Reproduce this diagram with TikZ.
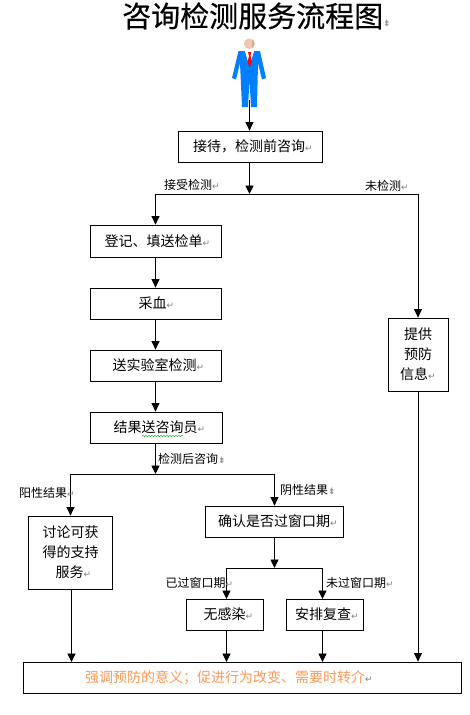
\documentclass[tikz,border=0pt]{standalone}
\usepackage{fontspec}
\setmainfont{Noto Sans CJK SC}
\newfontfamily\dejavu{DejaVu Sans}
\newfontfamily\titlefont[FakeBold=0.5]{Noto Sans CJK SC}
\usetikzlibrary{arrows.meta,decorations.pathmorphing}
\newcommand{\retmark}{{\color{gray}\dejavu\fontsize{9}{9}\selectfont ↵}}
\newcommand{\brkmark}{{\color{gray}\dejavu\fontsize{9}{9}\selectfont ⇟}}
\newcommand{\shiftr}[1]{\hspace*{#1pt}}
\definecolor{suit}{RGB}{0,128,255}
\definecolor{skin}{RGB}{238,200,175}
\definecolor{skindark}{RGB}{215,170,135}
\definecolor{peach}{RGB}{255,153,85}
\tikzset{
  x=1pt,y=-1pt,
  box/.style={draw=black,line width=0.8pt,fill=white,inner sep=0pt,font=\fontsize{14}{20}\selectfont,align=center},
  lab/.style={inner sep=0pt,anchor=west,font=\fontsize{12}{14}\selectfont},
  conn/.style={draw=black,line width=0.9pt},
  arr/.style={conn,-{Triangle[length=8.5pt,width=8pt]}},
}
\begin{document}
\begin{tikzpicture}
\useasboundingbox (0,0) rectangle (469,715);
% title
\node[inner sep=0pt,anchor=west,font=\fontsize{29}{32}\titlefont] (title) at (122,16) {咨询检测服务流程图{\color{gray}\dejavu\fontsize{9}{9}\selectfont ⇟}};
% person
\fill[suit] (238.5,51) -- (245,51) -- (249.3,66) -- (254,51) -- (260,51) -- (266,78) -- (262,79.5) -- (258,63) -- (257,107) -- (251,107) -- (249.5,80) -- (248,107) -- (242,107) -- (240,63) -- (236,79.5) -- (232,78) -- cycle;
\fill[white] (245,51) -- (254,51) -- (249.5,66) -- cycle;
\fill[red] (248,52) -- (251,52) -- (250.5,56) -- (252,62) -- (249.5,67) -- (247.5,62) -- (249,56) -- cycle;
\fill[skin] (249.3,43.7) circle (5.3);
\begin{scope}
\clip (249.3,43.7) circle (5.3);
\fill[skindark] (252,36) rectangle (256,52);
\end{scope}
\coordinate (person) at (249.5,100);
% boxes
\node[box,minimum width=144,minimum height=31] (recv) at (250,146.5) {\shiftr{6}接待，检测前咨询\retmark};
\node[box,minimum width=131,minimum height=32] (reg) at (155.5,241) {\shiftr{4}登记、填送检单\retmark};
\node[box,minimum width=131,minimum height=31] (blood) at (155.5,303.5) {\shiftr{2}采血\retmark};
\node[box,minimum width=131,minimum height=31] (lab) at (155.5,365.5) {\shiftr{6}送实验室检测\retmark};
\node[box,minimum width=132,minimum height=31] (result) at (156,427.5) {\shiftr{7}结果送咨询员\retmark};
\node[box,minimum width=60,minimum height=73] (prevent) at (418,354.5) {提供\\预防\\信息\retmark};
\node[box,minimum width=84,minimum height=73] (support) at (70.5,552.5) {讨论可获\\得的支持\\\shiftr{6}服务\retmark};
\node[box,minimum width=138,minimum height=31] (window) at (274.5,521.5) {\shiftr{7}确认是否过窗口期\retmark};
\node[box,minimum width=77,minimum height=31] (noinf) at (225,614.5) {\shiftr{7}无感染\retmark};
\node[box,minimum width=77,minimum height=31] (recheck) at (324.5,614.5) {\shiftr{5}安排复查\retmark};
\node[box,minimum width=438,minimum height=31,text=peach] (final) at (242,677.5) {强调预防的意义；促进行为改变、需要时转介\retmark\shiftr{26}};
% spell-check underline
\draw[green!60!black,line width=0.4pt,decorate,decoration={snake,amplitude=0.6pt,segment length=3pt}] (142,436) -- (183,436);
% junctions
\coordinate (j1) at (249.5,194);
\coordinate (j2) at (155.5,474);
\coordinate (j3) at (274.5,568);
\coordinate (c1) at (226.5,599);
\coordinate (c2) at (322.5,599);
\coordinate (d0) at (71.5,589);
\coordinate (d0e) at (71.5,662);
\coordinate (d1) at (226.5,630);
\coordinate (d1e) at (226.5,662);
\coordinate (d2) at (322.5,630);
\coordinate (d2e) at (322.5,662);
% connectors
\draw[arr] (person) -- (person |- recv.north);
\draw[arr] (recv.south -| j1) -- (j1);
\draw[arr] (j1) -| (reg.north);
\draw[arr] (j1) -| (prevent.north);
\draw[arr] (reg) -- (blood);
\draw[arr] (blood) -- (lab);
\draw[arr] (lab) -- (result.north -| lab);
\draw[arr] (result.south -| j2) -- (j2);
\draw[arr] (j2) -| (support.north);
\draw[arr] (j2) -| (window.north);
\draw[arr] (window) -- (j3);
\draw[arr] (j3) -| (c1);
\draw[arr] (j3) -| (c2);
\draw[arr] (d0) -- (d0e);
\draw[arr] (d1) -- (d1e);
\draw[arr] (d2) -- (d2e);
\draw[arr] (prevent.south) -- (prevent.south |- final.north);
% labels
\node[lab] (l1) at (164,185) {接受检测\retmark};
\node[lab] (l2) at (365,186) {未检测\retmark};
\node[lab] (l3) at (158,458.5) {检测后咨询\brkmark};
\node[lab] (l4) at (19,492.5) {阳性结果\retmark};
\node[lab] (l5) at (280,489.5) {阴性结果\brkmark};
\node[lab] (l6) at (165.5,582.5) {已过窗口期\retmark};
\node[lab] (l7) at (326,582.5) {未过窗口期\retmark};
\end{tikzpicture}
\end{document}
